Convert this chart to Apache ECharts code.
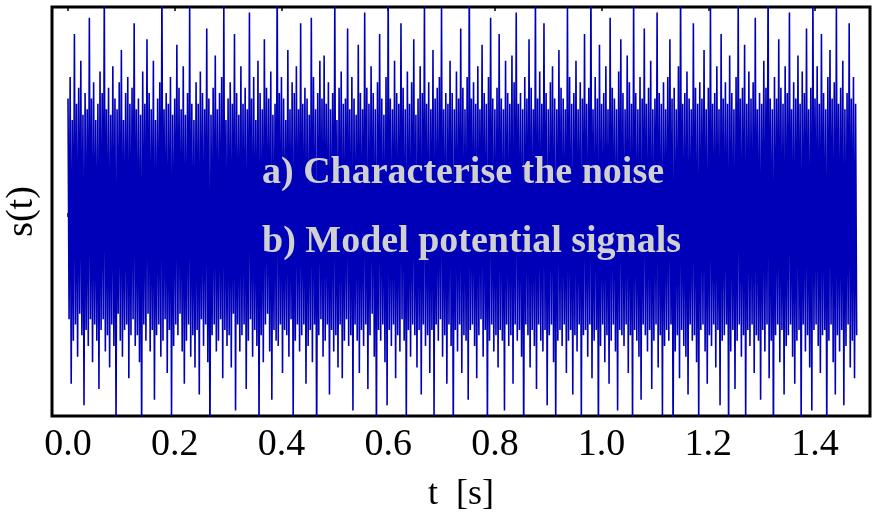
<!DOCTYPE html>
<html>
<head>
<meta charset="utf-8">
<script src="https://cdn.jsdelivr.net/npm/echarts@6/dist/echarts.min.js"></script>
<style>html,body{margin:0;padding:0;background:#fff}#c{width:873px;height:512px}</style>
</head>
<body>
<div id="c"></div>
<script>
// sample spacing in seconds
var sampleStep = 0.002;
// signal samples s(t) (arbitrary units)
var signalValues = [
2.2,-1.9,2.6,-3.1,1.8,-2.3,3.4,-2.0,2.1,-2.6,2.4,-1.8,2.9,-2.2,1.9,-3.5,2.3,-2.1,2.0,-2.4,
3.7,-1.9,2.2,-2.7,2.5,-2.0,1.8,-2.3,2.1,-3.2,2.7,-2.1,2.3,-1.9,4.2,-2.5,2.0,-2.2,2.4,-2.8,
1.9,-2.0,2.8,-2.4,2.2,-3.9,2.0,-1.8,2.5,-2.3,3.1,-2.6,1.8,-2.1,2.3,-2.0,2.6,-3.0,2.1,-2.2,
2.4,-1.9,3.6,-2.4,2.0,-2.2,2.2,-2.7,1.9,-4.1,2.7,-2.0,2.1,-2.3,3.3,-1.8,2.3,-2.5,2.0,-2.1,
2.9,-3.4,1.8,-2.2,2.2,-2.0,2.5,-2.6,4.4,-2.3,2.0,-1.9,2.3,-2.9,2.1,-2.1,2.6,-3.7,1.9,-2.4,
2.2,-2.0,3.2,-2.2,2.4,-1.8,2.0,-2.5,2.8,-3.1,1.9,-2.3,2.3,-2.0,3.9,-2.6,2.1,-2.2,1.8,-2.8,
2.5,-2.1,2.1,-3.3,2.7,-1.9,2.3,-2.4,2.0,-2.0,3.5,-2.7,2.2,-4.3,1.9,-2.2,2.4,-2.0,3.0,-2.5,
2.0,-2.3,2.3,-1.9,2.6,-3.0,4.0,-2.1,1.8,-2.4,2.2,-2.2,2.5,-2.8,2.1,-1.8,3.4,-3.6,2.3,-2.0,
1.9,-2.5,2.8,-2.2,2.1,-2.0,2.4,-3.2,2.0,-2.3,3.8,-1.9,2.2,-2.6,2.6,-2.1,1.8,-2.4,2.9,-4.0,
2.3,-2.2,2.0,-2.7,3.3,-2.0,2.4,-1.8,2.2,-2.5,2.7,-3.4,1.9,-2.1,2.1,-2.3,4.5,-2.4,2.3,-2.0,
2.6,-2.9,2.2,-2.1,1.8,-2.2,3.1,-2.6,2.0,-1.9,2.5,-3.8,2.3,-2.3,2.8,-2.0,2.0,-2.5,3.6,-2.2,
2.1,-2.0,2.4,-3.1,2.2,-2.4,1.9,-2.1,3.7,-2.7,2.6,-2.0,2.0,-4.4,2.3,-2.2,2.9,-1.9,2.2,-2.6,
3.0,-2.3,2.1,-2.0,2.5,-3.3,2.0,-2.1,2.3,-2.5,4.1,-2.2,1.8,-2.8,2.4,-2.0,2.7,-3.0,2.1,-2.3,
2.2,-1.9,3.5,-2.4,2.0,-2.2,2.6,-3.6,2.2,-2.0,1.9,-2.3,3.2,-2.9,2.3,-2.1,2.0,-2.4,3.8,-2.0,
2.4,-3.2,2.1,-2.2,2.8,-1.8,2.3,-2.6,2.0,-4.2,2.5,-2.1,3.4,-2.3,2.2,-2.0,1.9,-2.7,2.6,-3.5,
4.3,-2.1,2.2,-2.4,2.0,-2.0,2.9,-3.0,2.3,-2.2,2.1,-2.5,3.6,-1.9,2.4,-2.3,2.0,-3.9,2.7,-2.1,
2.1,-2.6,2.5,-2.0,3.3,-2.2,1.9,-2.8,2.2,-2.1,2.8,-3.3,2.3,-2.0,4.0,-2.4,2.1,-2.2,2.5,-2.9,
2.0,-2.1,3.1,-3.7,2.2,-2.0,2.4,-2.3,2.6,-1.9,3.9,-2.6,2.0,-2.2,2.3,-3.1,2.1,-2.0,2.9,-2.4,
2.3,-4.1,2.0,-2.1,2.7,-2.5,2.2,-2.0,3.5,-2.9,2.4,-2.2,2.0,-2.3,2.6,-3.4,4.6,-2.1,2.2,-2.0,
2.5,-2.4,2.1,-3.0,2.8,-2.2,2.0,-1.9,3.2,-2.6,2.3,-2.1,2.1,-4.0,2.6,-2.3,3.7,-2.0,2.2,-2.5,
2.0,-2.2,2.4,-2.8,3.4,-2.1,2.2,-2.3,2.0,-3.6,2.9,-2.0,2.3,-2.4,2.1,-2.2,3.0,-3.1,2.5,-2.0,
3.8,-2.3,2.1,-2.1,2.3,-2.6,2.0,-4.3,2.6,-2.0,2.2,-2.2,3.3,-2.8,2.4,-2.1,2.0,-2.4,4.2,-3.2,
2.2,-2.0,2.7,-2.3,2.1,-2.5,3.6,-2.1,2.3,-3.5,2.0,-2.2,2.5,-2.0,2.8,-2.7,2.2,-3.9,2.0,-2.3,
3.1,-2.1,2.4,-2.4,2.2,-2.0,2.0,-2.9,3.9,-2.3,2.6,-2.1,2.1,-3.3,2.3,-2.2,2.9,-2.5,2.0,-2.0,
2.5,-3.8,2.2,-2.2,3.4,-2.1,2.1,-2.6,2.4,-2.0,4.4,-3.0,2.0,-2.3,2.6,-2.1,2.2,-4.2,3.2,-2.4,
2.1,-2.0,2.3,-2.7,2.8,-2.2,2.0,-3.1,3.7,-2.3,2.4,-2.0,2.2,-2.5,2.0,-3.6,2.7,-2.1,3.3,-2.2,
2.3,-2.4,2.0,-2.0,3.0,-2.9,2.5,-2.2,2.1,-4.0,4.1,-2.1,2.3,-2.3,2.0,-2.6,2.6,-3.4,2.2,-2.0,
3.5,-2.2,2.1,-2.5,2.4,-2.1,2.9,-3.2,2.0,-2.3,2.2,-2.0,3.8,-2.8,2.3,-2.2,2.1,-3.7,2.5,-2.4,
2.0,-2.1,2.6,-2.3,3.3,-2.0,2.2,-4.4,2.4,-2.5,2.0,-2.2,2.8,-3.0,4.3,-2.1,2.1,-2.4,2.3,-2.6,
2.7,-3.3,2.2,-2.0,2.0,-2.3,3.6,-2.2,2.4,-2.7,2.1,-3.9,2.5,-2.1,2.2,-2.0,3.1,-2.5,2.0,-3.1,
2.4,-2.2,3.9,-2.4,2.1,-2.0,2.3,-2.8,2.8,-2.1,2.0,-3.5,3.4,-2.3,2.2,-2.2,2.5,-2.0,2.1,-4.1,
3.0,-2.5,2.3,-2.1,2.0,-3.2,2.6,-2.3,4.0,-2.0,2.2,-2.6,2.4,-2.2,3.2,-3.8,2.1,-2.1,2.7,-2.4,
2.2,-2.0,2.5,-2.9,3.7,-2.2,2.0,-2.3,2.3,-3.4,2.1,-2.1,2.9,-2.5,2.4,-2.0,4.5,-3.0,2.2,-2.3,
2.0,-4.3,2.6,-2.2,2.2,-2.0,3.3,-2.7,2.4,-2.1,2.1,-3.3,2.8,-2.4,2.3,-2.2,3.8,-2.0,2.0,-2.6,
2.5,-3.1,2.2,-2.3,3.0,-2.1,2.1,-3.9,2.7,-2.0,2.3,-2.5,3.5,-2.2,2.0,-2.8,2.4,-3.6,4.2,-2.1,
2.2,-2.0,2.8,-2.4,2.1,-2.9,3.4,-2.2,2.3,-2.1,2.0,-4.0,2.6,-2.3,3.1,-2.0,2.2,-2.7,2.5,-3.3,
3.9,-2.2,2.1,-2.5,2.4,-2.1,2.9,-3.5,2.0,-2.4,2.3,-2.0,3.6,-2.8,2.2,-2.3,2.6,-3.0,2.1,-2.2
];
var tickValues = [0.0, 0.2, 0.4, 0.6, 0.8, 1.0, 1.2, 1.4];
var overlayLines = ['a) Characterise the noise', 'b) Model potential signals'];
var xAxisName = 't  [s]';
var yAxisName = 's(t)';

var seriesData = signalValues.map(function (v, i) { return [i * sampleStep, v]; });

var chart = echarts.init(document.getElementById('c'), null, {renderer: 'canvas'});
var serif = '"Liberation Serif", "DejaVu Serif", serif';
chart.setOption({
  animation: false,
  backgroundColor: '#ffffff',
  grid: {left: 52, right: 3, top: 7, bottom: 96, containLabel: false, outerBoundsMode: 'none',
    show: true, borderColor: '#000', borderWidth: 3, backgroundColor: 'transparent'},
  xAxis: [{
    type: 'value', min: -0.03, max: 1.503,
    name: xAxisName, nameLocation: 'middle', nameGap: 61,
    nameTextStyle: {fontFamily: serif, fontSize: 36, color: '#000'},
    axisLine: {show: false},
    splitLine: {show: false},
    axisTick: {show: true, inside: true, length: 4, customValues: tickValues, lineStyle: {color: '#000', width: 1.5}},
    axisLabel: {customValues: tickValues, margin: 10, fontFamily: serif, fontSize: 38, color: '#000',
      formatter: function (v) { return v.toFixed(1); }}
  }, {
    type: 'value', min: -0.03, max: 1.503, position: 'top',
    axisLine: {show: false}, splitLine: {show: false}, axisLabel: {show: false},
    axisTick: {show: true, inside: true, length: 4, customValues: tickValues, lineStyle: {color: '#000', width: 1.5}}
  }],
  yAxis: {
    type: 'value', min: -3.7, max: 3.9,
    name: yAxisName, nameLocation: 'middle', nameGap: 11, nameRotate: 90,
    nameTextStyle: {fontFamily: serif, fontSize: 38, color: '#000'},
    axisLine: {show: false}, axisTick: {show: false}, axisLabel: {show: false}, splitLine: {show: false}
  },
  series: [{
    type: 'line', data: seriesData, showSymbol: false, symbol: 'none',
    lineStyle: {color: '#0000b8', width: 1.6}, clip: true, z: 2
  }],
  graphic: [
    {type: 'text', left: 262, top: 154, z: 100, style: {text: overlayLines[0], fill: '#d0d0d0', font: 'bold 38px ' + serif}},
    {type: 'text', left: 262, top: 223, z: 100, style: {text: overlayLines[1], fill: '#d0d0d0', font: 'bold 38px ' + serif}}
  ]
});
</script>
</body>
</html>
